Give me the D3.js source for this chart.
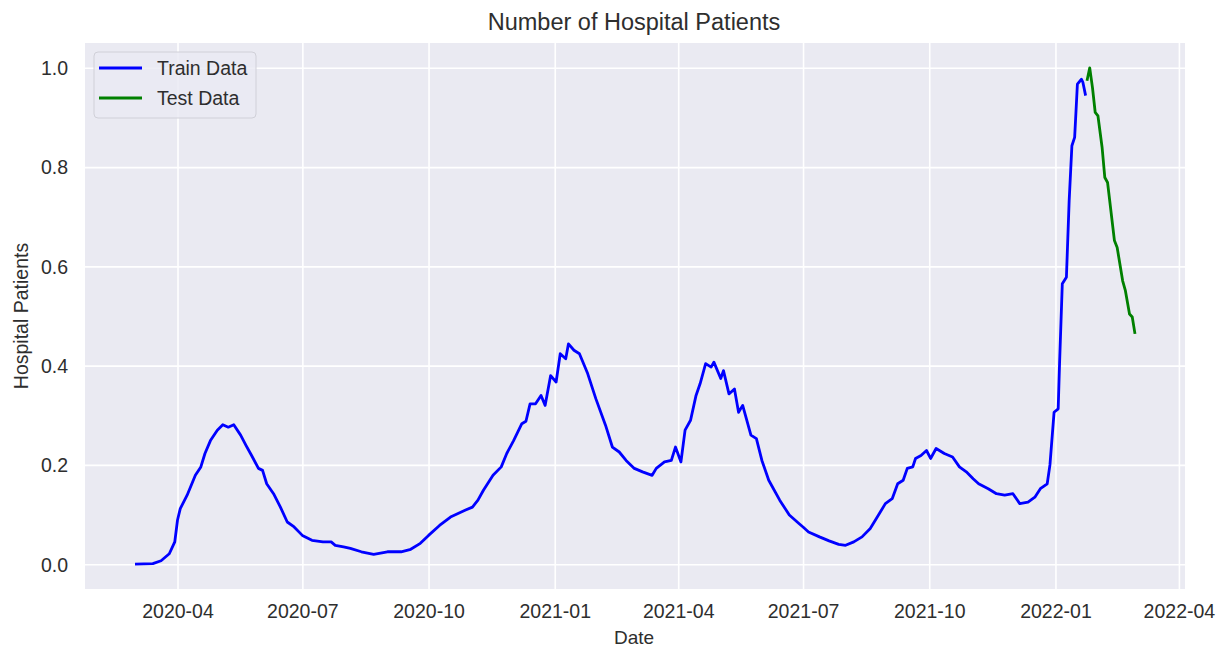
<!DOCTYPE html>
<html>
<head>
<meta charset="utf-8">
<script src="https://cdn.jsdelivr.net/npm/d3@7"></script>
<style>
  body { margin: 0; background: #fff; }
  text { font-family: "Liberation Sans", Arial, sans-serif; fill: #2e2e2e; }
</style>
</head>
<body>
<script>
// values (normalised patients)
var trainDates = ["2020-03-01","2020-03-14","2020-03-20","2020-03-26","2020-03-30","2020-04-01","2020-04-03","2020-04-08","2020-04-14","2020-04-18","2020-04-21","2020-04-25","2020-04-30","2020-05-04","2020-05-08","2020-05-12","2020-05-17","2020-05-21","2020-05-25","2020-05-30","2020-06-02","2020-06-05","2020-06-10","2020-06-15","2020-06-20","2020-06-25","2020-07-01","2020-07-08","2020-07-16","2020-07-22","2020-07-25","2020-07-31","2020-08-05","2020-08-13","2020-08-22","2020-09-01","2020-09-11","2020-09-18","2020-09-25","2020-10-01","2020-10-09","2020-10-17","2020-10-28","2020-11-02","2020-11-06","2020-11-10","2020-11-17","2020-11-23","2020-11-27","2020-12-02","2020-12-08","2020-12-11","2020-12-14","2020-12-18","2020-12-22","2020-12-25","2020-12-29","2021-01-02","2021-01-05","2021-01-09","2021-01-11","2021-01-15","2021-01-19","2021-01-25","2021-01-31","2021-02-07","2021-02-12","2021-02-17","2021-02-22","2021-02-28","2021-03-06","2021-03-13","2021-03-16","2021-03-22","2021-03-27","2021-03-30","2021-04-03","2021-04-06","2021-04-10","2021-04-14","2021-04-17","2021-04-21","2021-04-25","2021-04-27","2021-05-02","2021-05-04","2021-05-08","2021-05-12","2021-05-15","2021-05-18","2021-05-24","2021-05-28","2021-06-01","2021-06-06","2021-06-14","2021-06-21","2021-06-28","2021-07-01","2021-07-05","2021-07-13","2021-07-20","2021-07-27","2021-08-01","2021-08-07","2021-08-13","2021-08-19","2021-08-25","2021-08-30","2021-09-04","2021-09-08","2021-09-12","2021-09-15","2021-09-19","2021-09-21","2021-09-25","2021-09-29","2021-10-02","2021-10-06","2021-10-12","2021-10-18","2021-10-23","2021-10-28","2021-11-02","2021-11-06","2021-11-13","2021-11-19","2021-11-25","2021-12-01","2021-12-06","2021-12-12","2021-12-17","2021-12-21","2021-12-26","2021-12-28","2021-12-31","2022-01-03","2022-01-04","2022-01-06","2022-01-09","2022-01-11","2022-01-13","2022-01-15","2022-01-16","2022-01-17","2022-01-20","2022-01-21","2022-01-23"];
var trainValues = [0.0,0.001,0.007,0.021,0.045,0.089,0.112,0.139,0.179,0.196,0.223,0.249,0.270,0.281,0.276,0.281,0.260,0.239,0.219,0.193,0.189,0.162,0.142,0.115,0.085,0.075,0.058,0.048,0.045,0.045,0.038,0.035,0.032,0.025,0.020,0.025,0.025,0.030,0.042,0.058,0.078,0.095,0.109,0.115,0.129,0.149,0.179,0.196,0.223,0.249,0.283,0.288,0.323,0.323,0.340,0.320,0.380,0.367,0.424,0.414,0.444,0.431,0.424,0.384,0.333,0.280,0.236,0.226,0.209,0.193,0.186,0.179,0.193,0.206,0.209,0.236,0.206,0.270,0.290,0.340,0.364,0.404,0.397,0.407,0.374,0.390,0.343,0.353,0.306,0.320,0.260,0.253,0.209,0.169,0.129,0.099,0.082,0.075,0.065,0.055,0.047,0.040,0.038,0.045,0.055,0.072,0.099,0.122,0.132,0.162,0.169,0.193,0.196,0.213,0.219,0.229,0.213,0.233,0.223,0.216,0.196,0.186,0.172,0.162,0.152,0.142,0.139,0.142,0.122,0.125,0.135,0.152,0.162,0.200,0.306,0.313,0.404,0.565,0.578,0.732,0.843,0.860,0.913,0.967,0.977,0.971,0.944];

var testDates = ["2022-01-24","2022-01-26","2022-01-28","2022-01-30","2022-02-01","2022-02-04","2022-02-06","2022-02-08","2022-02-13","2022-02-15","2022-02-19","2022-02-21","2022-02-24","2022-02-26","2022-02-28"];
var testValues = [0.974,1.0,0.960,0.910,0.903,0.840,0.779,0.769,0.652,0.638,0.571,0.551,0.504,0.498,0.464];

var yTicks = [0.0, 0.2, 0.4, 0.6, 0.8, 1.0];
var xTicks = ["2020-04-01","2020-07-01","2020-10-01","2021-01-01","2021-04-01","2021-07-01","2021-10-01","2022-01-01","2022-04-01"];

var W = 1227, H = 647;
var margin = {left: 85, right: 1185, top: 43, bottom: 589};

var parse = d3.timeParse("%Y-%m-%d");
var train = trainDates.map(function(d, i) { return {date: parse(d), value: trainValues[i]}; });
var test = testDates.map(function(d, i) { return {date: parse(d), value: testValues[i]}; });

var svg = d3.select("body").append("svg")
  .attr("width", W)
  .attr("height", H);

// 5% padding on both axes like matplotlib
var t0 = train[0].date, t1 = test[test.length - 1].date;
var pad = (t1 - t0) * 0.05;
var x = d3.scaleTime()
  .domain([new Date(+t0 - pad), new Date(+t1 + pad)])
  .range([margin.left, margin.right]);
var y = d3.scaleLinear()
  .domain([-0.05, 1.05])
  .range([margin.bottom, margin.top]);

svg.append("rect")
  .attr("x", margin.left).attr("y", margin.top)
  .attr("width", margin.right - margin.left).attr("height", margin.bottom - margin.top)
  .attr("fill", "#eaeaf2");

// grid + tick labels
var xt = xTicks.map(parse);
svg.append("g")
  .attr("transform", "translate(0," + margin.bottom + ")")
  .call(d3.axisBottom(x).tickValues(xt).tickSize(-(margin.bottom - margin.top)).tickFormat(d3.timeFormat("%Y-%m")))
  .call(function(g) {
    g.select(".domain").remove();
    g.selectAll("line").attr("stroke", "#fff").attr("stroke-width", 1.6);
    g.selectAll("text").attr("dy", null).attr("y", 29)
      .style("font-size", "19.5px").attr("fill", "#2e2e2e")
      .style("font-family", "'Liberation Sans', Arial, sans-serif");
  });

svg.append("g")
  .attr("transform", "translate(" + margin.left + ",0)")
  .call(d3.axisLeft(y).tickValues(yTicks).tickSize(-(margin.right - margin.left)).tickFormat(d3.format(".1f")))
  .call(function(g) {
    g.select(".domain").remove();
    g.selectAll("line").attr("stroke", "#fff").attr("stroke-width", 1.6);
    g.selectAll("text").attr("x", -17).attr("dy", "0.35em")
      .style("font-size", "19.5px").attr("fill", "#2e2e2e")
      .style("font-family", "'Liberation Sans', Arial, sans-serif");
  });

var line = d3.line()
  .x(function(d) { return x(d.date); })
  .y(function(d) { return y(d.value); });

svg.append("path").datum(train)
  .attr("d", line)
  .attr("fill", "none")
  .attr("stroke", "#0000ff")
  .attr("stroke-width", 2.8)
  .attr("stroke-linejoin", "round");

svg.append("path").datum(test)
  .attr("d", line)
  .attr("fill", "none")
  .attr("stroke", "#008000")
  .attr("stroke-width", 2.8)
  .attr("stroke-linejoin", "round");

// title and axis labels
svg.append("text")
  .attr("x", 634).attr("y", 30)
  .attr("text-anchor", "middle")
  .style("font-size", "23.5px")
  .text("Number of Hospital Patients");

svg.append("text")
  .attr("x", 634).attr("y", 644)
  .attr("text-anchor", "middle")
  .style("font-size", "19px")
  .text("Date");

svg.append("text")
  .attr("transform", "translate(28," + ((margin.top + margin.bottom) / 2) + ") rotate(-90)")
  .attr("text-anchor", "middle")
  .style("font-size", "19.5px")
  .text("Hospital Patients");

// legend
var legend = svg.append("g").attr("transform", "translate(94,52)");
legend.append("rect")
  .attr("width", 162).attr("height", 66).attr("rx", 4)
  .attr("fill", "#eaeaf2").attr("fill-opacity", 0.8)
  .attr("stroke", "#d0d0d8");
var items = [{name: "Train Data", color: "#0000ff"}, {name: "Test Data", color: "#008000"}];
items.forEach(function(it, i) {
  var ly = 16 + i * 30;
  legend.append("line")
    .attr("x1", 5).attr("x2", 48).attr("y1", ly).attr("y2", ly)
    .attr("stroke", it.color).attr("stroke-width", 2.8);
  legend.append("text")
    .attr("x", 63).attr("y", ly).attr("dy", "0.35em")
    .style("font-size", "19.5px")
    .text(it.name);
});
</script>
</body>
</html>
